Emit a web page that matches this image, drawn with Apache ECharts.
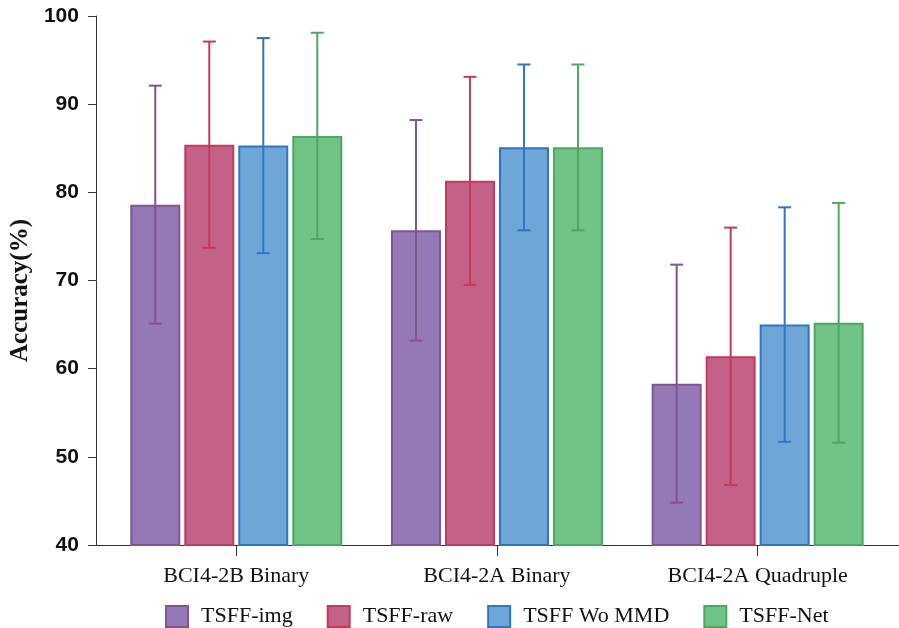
<!DOCTYPE html>
<html>
<head>
<meta charset="utf-8">
<script src="https://cdn.jsdelivr.net/npm/echarts@6/dist/echarts.min.js"></script>
<style>html,body{margin:0;padding:0;background:#fff;}#c{width:899px;height:628px;}</style>
</head>
<body>
<div id="c"></div>
<script>
var categories = ['BCI4-2B Binary', 'BCI4-2A Binary', 'BCI4-2A Quadruple'];
var seriesNames = ['TSFF-img', 'TSFF-raw', 'TSFF Wo MMD', 'TSFF-Net'];
var imgMean = [78.6, 75.7, 58.3];
var imgStd = [13.5, 12.5, 13.5];
var rawMean = [85.4, 81.3, 61.4];
var rawStd = [11.7, 11.8, 14.6];
var woMean = [85.3, 85.1, 65.0];
var woStd = [12.2, 9.4, 13.3];
var netMean = [86.4, 85.1, 65.2];
var netStd = [11.7, 9.4, 13.6];
var yTicks = [40, 50, 60, 70, 80, 90, 100];

var means = [imgMean, rawMean, woMean, netMean];
var stds = [imgStd, rawStd, woStd, netStd];
var fills = ['#9479b6', '#c46187', '#6fa6d8', '#6fc385'];
var borders = ['#82548f', '#c23b5d', '#2f75bf', '#4fa664'];

var BAR_W = 50, PITCH = 54;

var series = [];
seriesNames.forEach(function (name, i) {
  series.push({
    name: name,
    type: 'bar',
    xAxisIndex: 0, yAxisIndex: 0,
    barWidth: BAR_W,
    barGap: '8%',
    data: means[i],
    itemStyle: { color: fills[i], borderColor: borders[i], borderWidth: 2 },
    emphasis: { disabled: true },
    z: 2
  });
});
seriesNames.forEach(function (name, i) {
  var data = means[i].map(function (m, k) { return [k, m - stds[i][k], m + stds[i][k]]; });
  series.push({
    name: name + ' error',
    type: 'custom',
    xAxisIndex: 0, yAxisIndex: 0,
    data: data,
    z: 5,
    renderItem: function (params, api) {
      var x = api.value(0);
      var lo = api.coord([x, api.value(1)]);
      var hi = api.coord([x, api.value(2)]);
      var cx = lo[0] + (i - 1.5) * PITCH;
      var hw = 6.5;
      var st = { stroke: borders[i], lineWidth: 2 };
      return {
        type: 'group',
        children: [
          { type: 'line', shape: { x1: cx, y1: hi[1], x2: cx, y2: lo[1] }, style: st },
          { type: 'line', shape: { x1: cx - hw, y1: hi[1], x2: cx + hw, y2: hi[1] }, style: st },
          { type: 'line', shape: { x1: cx - hw, y1: lo[1], x2: cx + hw, y2: lo[1] }, style: st }
        ]
      };
    }
  });
});

var chart = echarts.init(document.getElementById('c'), null, { renderer: 'canvas' });
chart.setOption({
  animation: false,
  backgroundColor: '#ffffff',
  grid: [
    { left: 103, right: 11, top: 16, bottom: 83 },
    { left: 93, right: 0, top: 16, bottom: 83 }
  ],
  legend: {
    data: seriesNames,
    left: 160,
    top: 600,
    icon: 'rect',
    itemWidth: 22,
    itemHeight: 21,
    itemGap: 34,
    textStyle: { fontFamily: 'Liberation Serif', fontSize: 22, color: '#111', padding: [0, 0, 0, 8] }
  },
  xAxis: [
    {
      type: 'category',
      gridIndex: 0,
      data: categories,
      axisLine: { show: false },
      axisTick: { show: true, alignWithLabel: true, length: 11, lineStyle: { color: '#333', width: 1 } },
      axisLabel: { fontFamily: 'Liberation Serif', fontSize: 22, color: '#111', margin: 20 }
    },
    {
      type: 'value',
      gridIndex: 1,
      min: 0, max: 1,
      axisLine: { show: true, lineStyle: { color: '#333', width: 1 } },
      axisTick: { show: false },
      axisLabel: { show: false },
      splitLine: { show: false }
    }
  ],
  yAxis: [
    {
      type: 'value',
      gridIndex: 0,
      min: 40, max: 100, interval: 10,
      offset: 10,
      name: 'Accuracy(%)',
      nameLocation: 'middle',
      nameGap: 50,
      nameRotate: 90,
      nameTextStyle: { fontFamily: 'Liberation Serif', fontWeight: 'bold', fontSize: 25, color: '#111', padding: [0, 20, 0, 0] },
      axisLine: { show: true, lineStyle: { color: '#333', width: 1 } },
      axisTick: { show: true, length: 8, lineStyle: { color: '#333' } },
      axisLabel: {
        fontFamily: 'Liberation Sans Narrow, Liberation Sans', fontWeight: 'bold', fontSize: 21, color: '#111', margin: 17,
        formatter: function (v) { return yTicks.indexOf(v) >= 0 ? String(v) : ''; }
      },
      splitLine: { show: false }
    },
    {
      type: 'value',
      gridIndex: 1,
      show: false,
      min: 0, max: 1
    }
  ],
  series: series
});
</script>
</body>
</html>
